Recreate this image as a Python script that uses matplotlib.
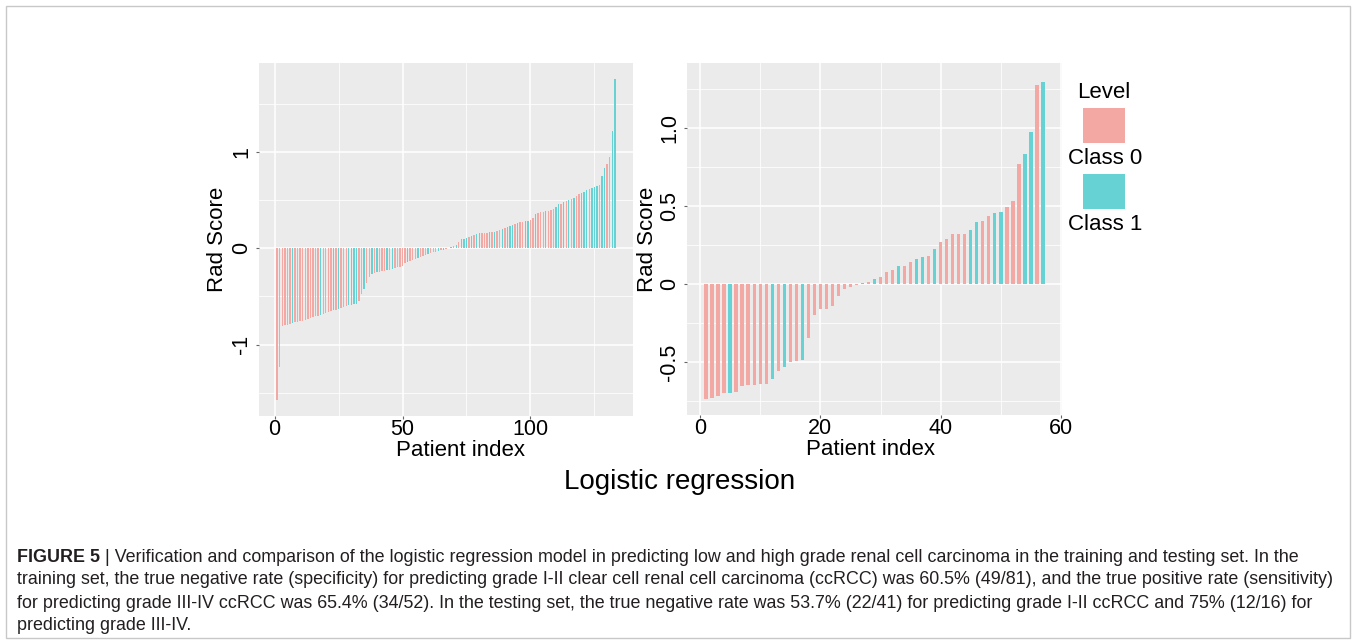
import matplotlib
matplotlib.use("Agg")
import matplotlib.pyplot as plt
from matplotlib.patches import Rectangle
from matplotlib import font_manager

plt.rcParams['font.family'] = ['Liberation Sans', 'DejaVu Sans']
plt.rcParams['axes.unicode_minus'] = False

W, H = 1356, 642

# training set (left) - rad score per patient, sorted
train_scores = [-1.57, -1.23, -0.81, -0.80, -0.80, -0.79, -0.78, -0.77, -0.77, -0.76,
                -0.75, -0.74, -0.73, -0.72, -0.71, -0.70, -0.70, -0.69, -0.68, -0.67,
                -0.66, -0.65, -0.64, -0.64, -0.63, -0.62, -0.61, -0.60, -0.59, -0.59,
                -0.58, -0.58, -0.55, -0.48, -0.42, -0.36, -0.30, -0.27, -0.26, -0.25,
                -0.25, -0.24, -0.24, -0.23, -0.23, -0.22, -0.21, -0.20, -0.19, -0.18,
                -0.15, -0.14, -0.13, -0.12, -0.11, -0.10, -0.09, -0.08, -0.07, -0.06,
                -0.05, -0.04, -0.035, -0.03, -0.02, -0.015, -0.01, 0.005, 0.01, 0.02,
                0.03, 0.06, 0.09, 0.10, 0.11, 0.12, 0.13, 0.14, 0.15, 0.155,
                0.16, 0.16, 0.16, 0.165, 0.165, 0.17, 0.18, 0.19, 0.20, 0.21,
                0.22, 0.23, 0.24, 0.25, 0.26, 0.27, 0.275, 0.28, 0.285, 0.29,
                0.31, 0.35, 0.36, 0.37, 0.38, 0.39, 0.39, 0.40, 0.405, 0.43,
                0.455, 0.46, 0.48, 0.49, 0.50, 0.51, 0.525, 0.54, 0.56, 0.57,
                0.585, 0.60, 0.61, 0.62, 0.63, 0.64, 0.65, 0.75, 0.83, 0.87,
                0.95, 1.21, 1.75]
train_class = [int(c) for c in
               "0000001000" "0000000100" "0010100011" "1100100101" "0001010000"
               "0100010001" "0001010010" "1011101011" "0001010010" "1110100110"
               "0100010001" "1010101001" "1101110110" "011"]

# testing set (right)
test_scores = [-0.74, -0.73, -0.715, -0.70, -0.70, -0.69, -0.655, -0.65, -0.645, -0.64,
               -0.64, -0.61, -0.56, -0.535, -0.50, -0.495, -0.485, -0.345, -0.20, -0.16,
               -0.157, -0.14, -0.077, -0.034, -0.021, -0.008, 0.008, 0.017, 0.03, 0.047,
               0.075, 0.09, 0.116, 0.116, 0.144, 0.163, 0.176, 0.18, 0.223, 0.273,
               0.29, 0.32, 0.322, 0.322, 0.348, 0.40, 0.403, 0.438, 0.459, 0.464,
               0.498, 0.534, 0.77, 0.835, 0.98, 1.277, 1.30]
test_class = [int(c) for c in
              "0000100000" "0101001000" "0000001010" "0010011010" "0000110011" "0001101"]

class_labels = ["Class 0", "Class 1"]
class_colors = ["#F3A8A4", "#66D2D4"]

train_xticks = [0, 50, 100]
train_yticks = [-1, 0, 1]
train_yticklabels = ["-1", "0", "1"]
test_xticks = [0, 20, 40, 60]
test_yticks = [-0.5, 0, 0.5, 1.0]
test_yticklabels = ["-0.5", "0", "0.5", "1.0"]

caption = [
    " | Verification and comparison of the logistic regression model in predicting low and high grade renal cell carcinoma in the training and testing set. In the",
    "training set, the true negative rate (specificity) for predicting grade I-II clear cell renal cell carcinoma (ccRCC) was 60.5% (49/81), and the true positive rate (sensitivity)",
    "for predicting grade III-IV ccRCC was 65.4% (34/52). In the testing set, the true negative rate was 53.7% (22/41) for predicting grade I-II ccRCC and 75% (12/16) for",
    "predicting grade III-IV.",
]


def fx(x):
    return x / W


def fy(y):
    return 1 - y / H


def bar_panel(ax, scores, classes, bar_w, xticks, xminor, yticks, yticklabels, yminor):
    x = range(1, len(scores) + 1)
    ax.bar(x, scores, width=bar_w, color=[class_colors[c] for c in classes], linewidth=0)
    ax.set_facecolor('#EBEBEB')
    for s in ax.spines.values():
        s.set_visible(False)
    ax.set_xticks(xticks)
    ax.set_xticks(xminor, minor=True)
    ax.set_yticks(yticks)
    ax.set_yticklabels(yticklabels)
    ax.set_yticks(yminor, minor=True)
    ax.set_axisbelow(True)
    ax.grid(which='major', color='white', lw=1.1)
    ax.grid(which='minor', color='white', lw=0.55)
    ax.tick_params(which='minor', length=0)
    ax.tick_params(which='major', length=2.5, width=0.8, color='#666666', labelsize=15.5, labelcolor='black')
    ax.tick_params(axis='x', pad=0)
    ax.tick_params(axis='y', pad=2.5, labelrotation=90)
    plt.setp(ax.get_yticklabels(), va='center')
    ax.set_ylabel("Rad Score", fontsize=16)
    ax.set_xlabel("Patient index", fontsize=16)


fig = plt.figure(figsize=(W / 100, H / 100), dpi=100)

# outer frame
fig.patches.append(Rectangle((fx(6), fy(638)), (1350 - 6) / W, (638 - 6) / H,
                             transform=fig.transFigure, fill=False, edgecolor='#C8C8C8', lw=1))

ax1 = fig.add_axes([fx(259), fy(416), (633 - 259) / W, (416 - 63) / H])
bar_panel(ax1, train_scores, train_class, 0.55, train_xticks, [25, 75, 125],
          train_yticks, train_yticklabels, [-1.5, -0.5, 0.5, 1.5])
ax1.set_xlim(-6.1, 140.1)
ax1.set_ylim(-1.74, 1.92)
ax1.yaxis.set_label_coords(-0.083, 0.5)
ax1.xaxis.set_label_coords(0.54, -0.068)

ax2 = fig.add_axes([fx(687), fy(415), (1062 - 687) / W, (415 - 63) / H])
bar_panel(ax2, test_scores, test_class, 0.6, test_xticks, [10, 30, 50],
          test_yticks, test_yticklabels, [-0.75, -0.25, 0.25, 0.75, 1.25])
ax2.set_xlim(-2.2, 60.2)
ax2.set_ylim(-0.84, 1.42)
ax2.yaxis.set_label_coords(-0.078, 0.5)
ax2.xaxis.set_label_coords(0.49, -0.068)

fig.text(fx(680), fy(482), "Logistic regression", fontsize=20, ha='center', va='center')

# legend: title, keys with labels underneath
fig.text(fx(1104), fy(92), "Level", fontsize=16, ha='center', va='center')
key_tops = [108, 174]
label_ys = [158, 225]
for i in range(2):
    fig.patches.append(Rectangle((fx(1083), fy(key_tops[i] + 35)), 42 / W, 35 / H,
                                 transform=fig.transFigure, facecolor=class_colors[i], lw=0))
    fig.text(fx(1105), fy(label_ys[i]), class_labels[i], fontsize=16, ha='center', va='center')

# caption
names = {f.name for f in font_manager.fontManager.ttflist}
cap_font = 'Liberation Sans Narrow' if 'Liberation Sans Narrow' in names else 'Liberation Sans'
r = fig.canvas.get_renderer()
probe = fig.text(0, 0, caption[1], fontsize=12, family=cap_font)
cap_size = 12 * 1315 / probe.get_window_extent(r).width
probe.remove()

line_ys = [557, 580, 603, 625]
head = fig.text(fx(17), fy(line_ys[0]), "FIGURE 5", fontsize=cap_size, family=cap_font,
                weight='bold', color='#231F20', va='center')
hx = head.get_window_extent(r).x1
fig.text(hx / W, fy(line_ys[0]), caption[0], fontsize=cap_size, family=cap_font,
         color='#231F20', va='center')
for line, y in zip(caption[1:], line_ys[1:]):
    fig.text(fx(17), fy(y), line, fontsize=cap_size, family=cap_font, color='#231F20', va='center')

fig.savefig("out.png", dpi=100)
